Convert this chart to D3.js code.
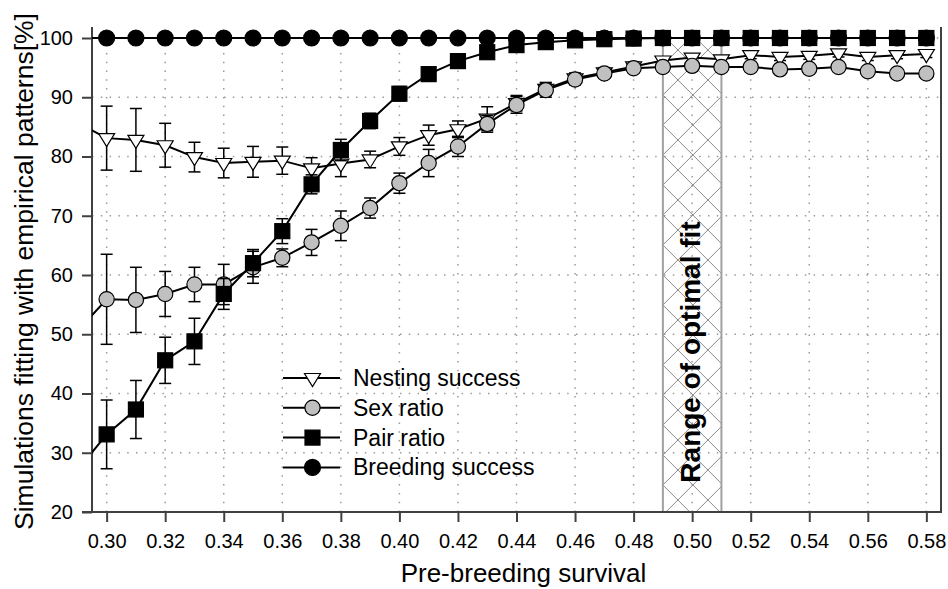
<!DOCTYPE html>
<html>
<head>
<meta charset="utf-8">
<script src="https://cdn.jsdelivr.net/npm/d3@7"></script>
<style>
  body { margin: 0; background: #fff; }
  text { font-family: "Liberation Sans", Arial, sans-serif; fill: #000; }
</style>
</head>
<body>
<div id="main"></div>
<script>
// pre-breeding survival (0.29 lies just left of the axis and is clipped)
const survival = [0.29, 0.30, 0.31, 0.32, 0.33, 0.34, 0.35, 0.36, 0.37, 0.38,
                  0.39, 0.40, 0.41, 0.42, 0.43, 0.44, 0.45, 0.46, 0.47, 0.48,
                  0.49, 0.50, 0.51, 0.52, 0.53, 0.54, 0.55, 0.56, 0.57, 0.58];

const nesting = [85.7, 83.1, 82.8, 81.9, 79.9, 78.9, 79.1, 79.3, 78.0, 78.8,
                 79.5, 81.7, 83.6, 84.6, 86.4, 89.0, 91.4, 93.2, 94.2, 95.2,
                 96.2, 96.7, 96.4, 97.1, 96.8, 97.0, 97.4, 96.8, 97.1, 97.3];
const nestingErr = [5.5, 5.4, 5.3, 3.7, 2.5, 2.5, 2.6, 2.3, 1.8, 2.2,
                    1.4, 1.5, 1.7, 1.4, 2.0, 1.3, 1.1, 0.9, 0.8, 0.7,
                    0.6, 0.6, 0.6, 0.6, 0.6, 0.6, 0.6, 0.6, 0.6, 0.6];

const sexRatio = [50.5, 55.9, 55.8, 56.8, 58.4, 58.4, 61.3, 62.9, 65.5, 68.3,
                  71.3, 75.5, 78.9, 81.7, 85.5, 88.7, 91.2, 93.0, 94.0, 94.9,
                  95.1, 95.3, 95.1, 95.1, 94.7, 94.8, 95.1, 94.4, 94.0, 94.0];
const sexErr = [7.6, 7.6, 5.5, 3.8, 2.9, 3.4, 2.7, 1.5, 2.2, 2.5,
                1.7, 1.7, 2.3, 1.7, 1.4, 1.4, 1.2, 0.9, 0.8, 0.7,
                0.6, 0.6, 0.6, 0.6, 0.6, 0.6, 0.6, 0.6, 0.6, 0.6];

const pairRatio = [27.0, 33.1, 37.3, 45.6, 48.8, 56.8, 62.0, 67.4, 75.3, 81.1,
                   86.0, 90.6, 93.9, 96.1, 97.6, 98.8, 99.3, 99.6, 99.8, 99.9,
                   100, 100, 100, 100, 100, 100, 100, 100, 100, 100];
const pairErr = [5.8, 5.8, 4.9, 3.9, 3.9, 2.6, 2.3, 2.1, 1.6, 1.8,
                 1.3, 1.2, 0.8, 0.7, 0.6, 0.4, 0.3, 0.2, 0.1, 0.1,
                 0, 0, 0, 0, 0, 0, 0, 0, 0, 0];

const breeding = [100, 100, 100, 100, 100, 100, 100, 100, 100, 100,
                  100, 100, 100, 100, 100, 100, 100, 100, 100, 100,
                  100, 100, 100, 100, 100, 100, 100, 100, 100, 100];

const xTicks = [0.30, 0.32, 0.34, 0.36, 0.38, 0.40, 0.42, 0.44, 0.46, 0.48, 0.50, 0.52, 0.54, 0.56, 0.58];
const yTicks = [20, 30, 40, 50, 60, 70, 80, 90, 100];
const optimalRange = [0.49, 0.51];

const width = 948, height = 589;
const config = {left: 92, right: 941, top: 27, bottom: 512};

const svg = d3.select("#main").append("svg")
    .attr("width", width)
    .attr("height", height);

const x = d3.scaleLinear().domain([0.295, 0.585]).range([config.left, config.right]);
const y = d3.scaleLinear().domain([20, 100]).range([config.bottom, 38]);

const defs = svg.append("defs");
defs.append("clipPath").attr("id", "plotClip")
  .append("rect")
    .attr("x", config.left).attr("y", 0)
    .attr("width", config.right - config.left).attr("height", config.bottom);

// cross hatch for the optimal fit band
const pat = defs.append("pattern")
    .attr("id", "hatch")
    .attr("patternUnits", "userSpaceOnUse")
    .attr("width", 30).attr("height", 30)
    .attr("x", x(optimalRange[0])).attr("y", 275);
pat.append("path")
    .attr("d", "M0,0L30,30M30,0L0,30")
    .attr("stroke", "#8a8a8a")
    .attr("stroke-width", 1)
    .attr("fill", "none");

// grid
const grid = svg.append("g").attr("stroke", "#9a9a9a").attr("stroke-width", 1.5)
    .attr("stroke-dasharray", "1.5,7.3");
grid.selectAll(".vg").data(xTicks).enter().append("line")
    .attr("x1", d => x(d)).attr("x2", d => x(d))
    .attr("y1", y(20)).attr("y2", y(100));
grid.selectAll(".hg").data(yTicks.filter(d => d > 20)).enter().append("line")
    .attr("x1", config.left).attr("x2", config.right)
    .attr("y1", d => y(d)).attr("y2", d => y(d));

// optimal fit band
svg.append("rect")
    .attr("x", x(optimalRange[0]))
    .attr("y", y(100.8))
    .attr("width", x(optimalRange[1]) - x(optimalRange[0]))
    .attr("height", y(20) - y(100.8))
    .attr("fill", "url(#hatch)");
svg.selectAll(".bandEdge").data(optimalRange).enter().append("line")
    .attr("x1", d => x(d)).attr("x2", d => x(d))
    .attr("y1", y(100.8)).attr("y2", y(20))
    .attr("stroke", "#a0a0a0").attr("stroke-width", 2);

svg.append("text")
    .attr("transform", `translate(${x(0.50) + 8},${352}) rotate(-90)`)
    .attr("text-anchor", "middle")
    .style("font-size", "28px")
    .style("font-weight", "bold")
    .text("Range of optimal fit");

// axes
const xAxis = svg.append("g")
    .attr("transform", `translate(0,${config.bottom})`)
    .call(d3.axisBottom(x).tickValues(xTicks).tickFormat(d3.format(".2f"))
          .tickSize(10).tickSizeOuter(0).tickPadding(12));
const yAxis = svg.append("g")
    .attr("transform", `translate(${config.left},0)`)
    .call(d3.axisLeft(y).tickValues(yTicks).tickSize(10).tickSizeOuter(0).tickPadding(9));
[xAxis, yAxis].forEach(a => {
  a.select(".domain").remove();
  a.selectAll(".tick line").attr("stroke", "#404040").attr("stroke-width", 2);
  a.selectAll(".tick text").style("font-size", "20px")
      .style("font-family", "'Liberation Sans', Arial, sans-serif").attr("fill", "#000");
});
xAxis.selectAll(".tick text").attr("dy", "0.71em");

const frame = svg.append("g").attr("stroke", "#404040").attr("stroke-width", 2);
frame.append("line").attr("x1", config.left - 10).attr("x2", config.right + 1)
    .attr("y1", config.bottom).attr("y2", config.bottom);
frame.append("line").attr("x1", config.left).attr("x2", config.left)
    .attr("y1", config.top).attr("y2", config.bottom);
frame.append("line").attr("x1", config.right).attr("x2", config.right)
    .attr("y1", config.top).attr("y2", config.bottom + 1);

svg.append("text")
    .attr("x", (config.left + config.right) / 2 + 7)
    .attr("y", 582)
    .attr("text-anchor", "middle")
    .style("font-size", "26px")
    .text("Pre-breeding survival");
svg.append("text")
    .attr("transform", `translate(33,${(config.top + config.bottom) / 2 + 2}) rotate(-90)`)
    .attr("text-anchor", "middle")
    .style("font-size", "26.5px")
    .text("Simulations fitting with empirical patterns[%]");

// markers
const triPath = "M-8,-4.5L8,-4.5L0,8.5Z";
function drawMarker(g, kind) {
  if (kind === "tri") g.append("path").attr("d", triPath).attr("fill", "#fff");
  if (kind === "grey") g.append("circle").attr("r", 7.6).attr("fill", "#c0c0c0");
  if (kind === "square") g.append("rect").attr("x", -7.5).attr("y", -7.5)
      .attr("width", 15).attr("height", 15).attr("fill", "#000");
  if (kind === "black") g.append("circle").attr("r", 8).attr("fill", "#000");
  g.selectAll("*").attr("stroke", "#000").attr("stroke-width", 1.2);
}

const series = [
  {name: "Nesting success", values: nesting, err: nestingErr, kind: "tri"},
  {name: "Sex ratio", values: sexRatio, err: sexErr, kind: "grey"},
  {name: "Pair ratio", values: pairRatio, err: pairErr, kind: "square"},
  {name: "Breeding success", values: breeding, err: null, kind: "black"}
];

const plot = svg.append("g").attr("clip-path", "url(#plotClip)");
const line = d3.line().x(d => x(d.s)).y(d => y(d.v));

series.forEach(ser => {
  const pts = survival.map((s, i) => ({s: s, v: ser.values[i], e: ser.err ? ser.err[i] : 0}));
  const g = plot.append("g");
  g.append("path").datum(pts)
      .attr("d", line)
      .attr("fill", "none")
      .attr("stroke", "#000")
      .attr("stroke-width", 2);

  const bars = g.selectAll(".err").data(pts.filter(d => d.e > 0.25)).enter().append("g")
      .attr("stroke", "#000").attr("stroke-width", 1.5);
  bars.append("line")
      .attr("x1", d => x(d.s)).attr("x2", d => x(d.s))
      .attr("y1", d => y(d.v + d.e)).attr("y2", d => y(d.v - d.e));
  bars.append("line")
      .attr("x1", d => x(d.s) - 6).attr("x2", d => x(d.s) + 6)
      .attr("y1", d => y(d.v + d.e)).attr("y2", d => y(d.v + d.e));
  bars.append("line")
      .attr("x1", d => x(d.s) - 6).attr("x2", d => x(d.s) + 6)
      .attr("y1", d => y(d.v - d.e)).attr("y2", d => y(d.v - d.e));

  g.selectAll(".mk").data(pts).enter().append("g")
      .attr("transform", d => `translate(${x(d.s)},${y(d.v)})`)
      .each(function() { drawMarker(d3.select(this), ser.kind); });
});

// legend
const legend = svg.append("g").attr("transform", "translate(283,378)");
series.forEach((ser, i) => {
  const row = legend.append("g").attr("transform", `translate(0,${i * 29.8})`);
  row.append("line").attr("x1", 0).attr("x2", 57)
      .attr("stroke", "#000").attr("stroke-width", 2);
  const m = row.append("g").attr("transform", "translate(29.5,0)");
  drawMarker(m, ser.kind);
  row.append("text")
      .attr("x", 70).attr("dy", "0.35em")
      .style("font-size", "23px")
      .text(ser.name);
});
</script>
</body>
</html>
